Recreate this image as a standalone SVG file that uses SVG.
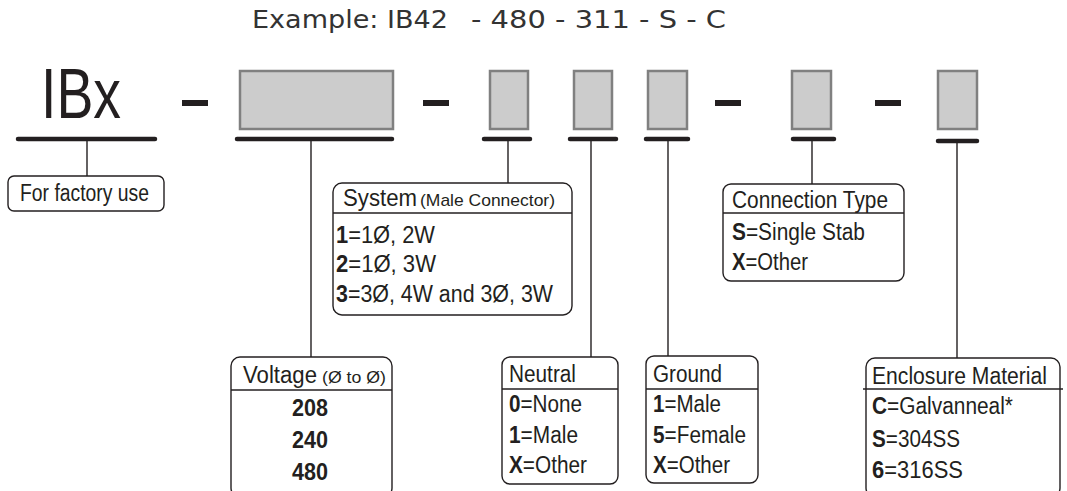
<svg xmlns="http://www.w3.org/2000/svg" width="1067" height="491" viewBox="0 0 1067 491">
<style>
.cond{font-family:"Liberation Sans Narrow","Liberation Sans",Arial,sans-serif;fill:#231f20}
.ex{font-family:"DejaVu Sans","Verdana",sans-serif;font-size:25.5px;fill:#333}
.box{fill:#fff;stroke:#231f20;stroke-width:1.4}
.div{stroke:#231f20;stroke-width:1.4}
.slot{fill:#cccccc;stroke:#808080;stroke-width:2.5}
.ul{stroke:#231f20;stroke-width:4.5;stroke-linecap:round}
.dash{fill:#231f20}
.con{stroke:#231f20;stroke-width:1.4;fill:none}
.h{font-size:23px}
.s{font-size:17px}
.r{font-size:23px}
.b{font-weight:bold}
</style>
<rect width="1067" height="491" fill="#fff"/>
<text class="ex" x="252" y="28" textLength="196" lengthAdjust="spacingAndGlyphs">Example: IB42</text>
<text class="ex" x="471" y="28" textLength="255" lengthAdjust="spacingAndGlyphs">- 480 - 311 - S - C</text>

<g id="code">
<text class="cond" x="41" y="118" font-size="70" textLength="80" lengthAdjust="spacingAndGlyphs">IBx</text>
<rect class="dash" x="182" y="100" width="26" height="6"/>
<rect class="slot" x="240" y="71" width="153" height="58"/>
<rect class="dash" x="423" y="100" width="26" height="6"/>
<rect class="slot" x="490" y="71" width="38" height="58"/>
<rect class="slot" x="574" y="71" width="38" height="58"/>
<rect class="slot" x="648" y="71" width="39" height="58"/>
<rect class="dash" x="715" y="100" width="26" height="6"/>
<rect class="slot" x="792" y="71" width="39" height="58"/>
<rect class="dash" x="875" y="100" width="26" height="6"/>
<rect class="slot" x="938" y="71" width="39" height="58"/>
<line class="ul" x1="18" y1="139" x2="155" y2="139"/>
<line class="ul" x1="237" y1="139" x2="392" y2="139"/>
<line class="ul" x1="484" y1="139" x2="530" y2="139"/>
<line class="ul" x1="570" y1="139" x2="616" y2="139"/>
<line class="ul" x1="646" y1="139" x2="688" y2="139"/>
<line class="ul" x1="793" y1="139" x2="834" y2="139"/>
<line class="ul" x1="938" y1="141" x2="977" y2="141"/>
</g>

<g id="connectors">
<line class="con" x1="87" y1="141" x2="87" y2="176"/>
<line class="con" x1="311" y1="141" x2="311" y2="357"/>
<line class="con" x1="508" y1="141" x2="508" y2="183"/>
<line class="con" x1="591" y1="141" x2="591" y2="357"/>
<line class="con" x1="668" y1="141" x2="668" y2="356"/>
<line class="con" x1="812" y1="141" x2="812" y2="184"/>
<line class="con" x1="957" y1="143" x2="957" y2="358"/>
</g>

<g id="factory">
<rect class="box" x="8" y="176" width="156" height="35" rx="6"/>
<text class="cond h" x="20" y="201" textLength="129" lengthAdjust="spacingAndGlyphs">For factory use</text>
</g>

<g id="system">
<rect class="box" x="333" y="183" width="239" height="132" rx="9"/>
<line class="div" x1="333" y1="213" x2="572" y2="213"/>
<text class="cond h" x="343" y="206" textLength="74" lengthAdjust="spacingAndGlyphs">System</text>
<text class="cond s" x="420" y="206" textLength="135" lengthAdjust="spacingAndGlyphs">(Male Connector)</text>
<text class="cond r" x="336" y="243" textLength="99" lengthAdjust="spacingAndGlyphs"><tspan class="b">1</tspan>=1Ø, 2W</text>
<text class="cond r" x="336" y="272" textLength="100" lengthAdjust="spacingAndGlyphs"><tspan class="b">2</tspan>=1Ø, 3W</text>
<text class="cond r" x="336" y="302" textLength="217" lengthAdjust="spacingAndGlyphs"><tspan class="b">3</tspan>=3Ø, 4W and 3Ø, 3W</text>
</g>

<g id="voltage">
<rect class="box" x="231" y="357" width="161" height="140" rx="9"/>
<line class="div" x1="231" y1="390" x2="392" y2="390"/>
<text class="cond h" x="243" y="383" textLength="74" lengthAdjust="spacingAndGlyphs">Voltage</text>
<text class="cond s" x="322" y="383" textLength="64" lengthAdjust="spacingAndGlyphs">(Ø to Ø)</text>
<text class="cond r b" x="292" y="416" textLength="36" lengthAdjust="spacingAndGlyphs">208</text>
<text class="cond r b" x="292" y="448" textLength="36" lengthAdjust="spacingAndGlyphs">240</text>
<text class="cond r b" x="292" y="480" textLength="36" lengthAdjust="spacingAndGlyphs">480</text>
</g>

<g id="neutral">
<rect class="box" x="502" y="357" width="116" height="127" rx="8"/>
<line class="div" x1="502" y1="389" x2="618" y2="389"/>
<text class="cond h" x="509" y="382" textLength="67" lengthAdjust="spacingAndGlyphs">Neutral</text>
<text class="cond r" x="509" y="412" textLength="73" lengthAdjust="spacingAndGlyphs"><tspan class="b">0</tspan>=None</text>
<text class="cond r" x="509" y="443" textLength="69" lengthAdjust="spacingAndGlyphs"><tspan class="b">1</tspan>=Male</text>
<text class="cond r" x="509" y="473" textLength="78" lengthAdjust="spacingAndGlyphs"><tspan class="b">X</tspan>=Other</text>
</g>

<g id="ground">
<rect class="box" x="646" y="356" width="112" height="127" rx="8"/>
<line class="div" x1="646" y1="389" x2="758" y2="389"/>
<text class="cond h" x="653" y="382" textLength="69" lengthAdjust="spacingAndGlyphs">Ground</text>
<text class="cond r" x="653" y="412" textLength="68" lengthAdjust="spacingAndGlyphs"><tspan class="b">1</tspan>=Male</text>
<text class="cond r" x="653" y="443" textLength="93" lengthAdjust="spacingAndGlyphs"><tspan class="b">5</tspan>=Female</text>
<text class="cond r" x="653" y="473" textLength="77" lengthAdjust="spacingAndGlyphs"><tspan class="b">X</tspan>=Other</text>
</g>

<g id="connection">
<rect class="box" x="723" y="184" width="181" height="97" rx="8"/>
<line class="div" x1="723" y1="213" x2="904" y2="213"/>
<text class="cond h" x="732" y="208" textLength="156" lengthAdjust="spacingAndGlyphs">Connection Type</text>
<text class="cond r" x="732" y="240" textLength="133" lengthAdjust="spacingAndGlyphs"><tspan class="b">S</tspan>=Single Stab</text>
<text class="cond r" x="732" y="270" textLength="76" lengthAdjust="spacingAndGlyphs"><tspan class="b">X</tspan>=Other</text>
</g>

<g id="enclosure">
<rect class="box" x="866" y="358" width="194" height="139" rx="9"/>
<line class="div" x1="863" y1="389" x2="1063" y2="389"/>
<text class="cond h" x="872" y="384" textLength="175" lengthAdjust="spacingAndGlyphs">Enclosure Material</text>
<text class="cond r" x="872" y="414" textLength="141" lengthAdjust="spacingAndGlyphs"><tspan class="b">C</tspan>=Galvanneal*</text>
<text class="cond r" x="872" y="447" textLength="88" lengthAdjust="spacingAndGlyphs"><tspan class="b">S</tspan>=304SS</text>
<text class="cond r" x="872" y="478" textLength="91" lengthAdjust="spacingAndGlyphs"><tspan class="b">6</tspan>=316SS</text>
</g>
</svg>
